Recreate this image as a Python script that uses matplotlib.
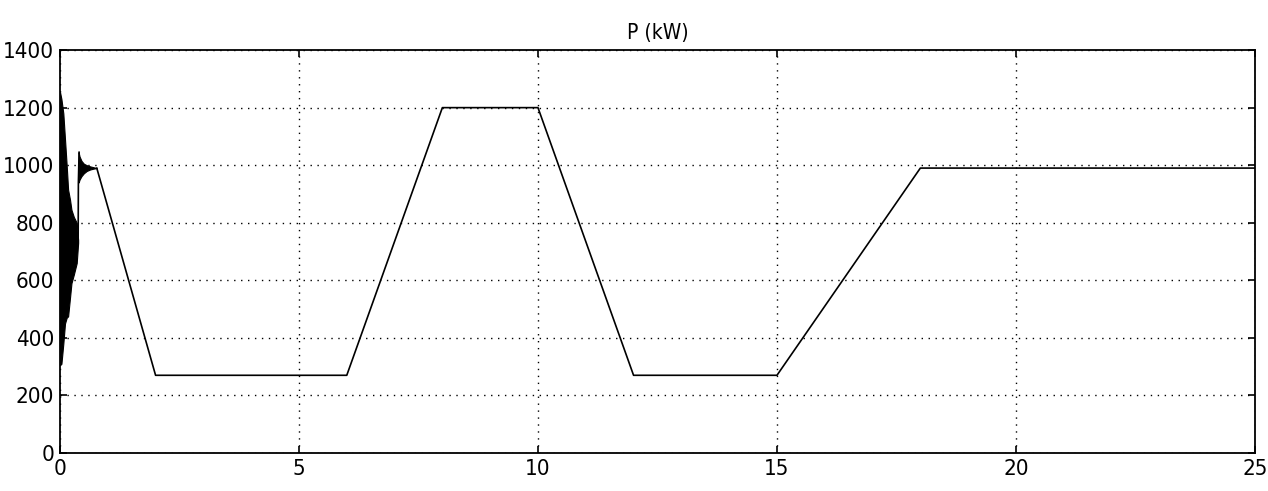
import matplotlib
matplotlib.use('Agg')
import matplotlib.pyplot as plt
import numpy as np

plt.rcParams['font.family'] = ['DejaVu Sans']
plt.rcParams['font.stretch'] = 'condensed'

# start-up transient: envelope of the dense oscillation (t in s, P in kW)
env_t = [0.0, 0.03, 0.07, 0.105, 0.14, 0.17, 0.21, 0.24, 0.29, 0.35, 0.38]
env_hi = [1255, 1230, 1180, 1090, 1000, 915, 880, 845, 820, 800, 740]
env_lo = [305, 310, 380, 450, 470, 475, 540, 590, 620, 660, 730]

# second, damped oscillation around 1000 kW
env2_t = [0.39, 0.41, 0.45, 0.50, 0.56, 0.63, 0.70, 0.77]
env2_hi = [1045, 1030, 1015, 1005, 1000, 996, 993, 990]
env2_lo = [940, 950, 962, 972, 980, 985, 988, 990]

# main power trace after the transient
p_t = [0.38, 0.385, 0.40, 0.77, 2.0, 6.0, 8.0, 10.0, 12.0, 15.0, 18.0, 25.0]
p_kw = [730, 940, 1045, 990, 270, 270, 1200, 1200, 270, 270, 990, 990]

x_ticks = [0, 5, 10, 15, 20, 25]
y_ticks = [0, 200, 400, 600, 800, 1000, 1200, 1400]

fig = plt.figure(figsize=(12.68, 4.91), dpi=100)
ax = fig.add_axes([0.0473, 0.0774, 0.9424, 0.8206])

ax.fill_between(env_t, env_lo, env_hi, color='black', linewidth=0.8)
ax.fill_between(env2_t, env2_lo, env2_hi, color='black', linewidth=0.8)
ax.plot(p_t[:3], p_kw[:3], color='black', linewidth=1.2)
ax.plot(p_t[3:], p_kw[3:], color='black', linewidth=1.2)

ax.set_xlim(0, 25)
ax.set_ylim(0, 1400)
ax.set_xticks(x_ticks)
ax.set_yticks(y_ticks)
ax.tick_params(direction='in', top=True, right=True, length=5, width=1.2,
               labelsize=16, pad=4)
ax.grid(True, color='black', linestyle=(0, (1, 4)), linewidth=1.0)
for s in ax.spines.values():
    s.set_linewidth(1.3)

ax.set_title('P (kW)', fontsize=15, pad=8)

fig.savefig('out.png', dpi=100)
